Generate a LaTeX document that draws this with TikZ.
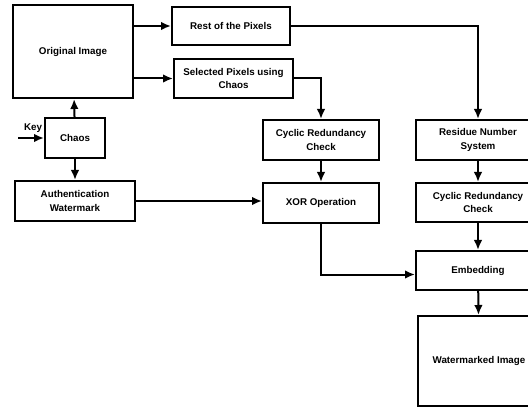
\documentclass[tikz,border=0pt]{standalone}
\usepackage{fontspec}
\setmainfont{Liberation Sans}
\usetikzlibrary{arrows.meta}
\tikzset{every node/.style={font=\fontsize{9.8}{13.5}\selectfont\bfseries},
  blk/.style={draw, line width=2pt, align=center, inner sep=1pt},
  flow/.style={line width=2pt, -{Latex[length=10pt,width=8.5pt]}}}

\begin{document}
\begin{tikzpicture}[x=1pt,y=-1pt]
\useasboundingbox (0,0) rectangle (528,409);
% left column
\node[blk, minimum width=120pt, minimum height=93pt] (orig) at (73,51.5) {Original Image};
\node[blk, minimum width=60pt, minimum height=40pt] (chaos) at (75,138) {Chaos};
\node[blk, minimum width=120pt, minimum height=40pt] (auth) at (75,201) {Authentication\\Watermark};
% pixel split
\node[blk, minimum width=118pt, minimum height=38pt] (rest) at (231,26) {Rest of the Pixels};
\node[blk, minimum width=119pt, minimum height=39pt] (sel) at (233.5,78.5) {Selected Pixels using\\Chaos};
% middle column
\node[blk, minimum width=116pt, minimum height=40pt] (crcA) at (321,140) {Cyclic Redundancy\\Check};
\node[blk, minimum width=116pt, minimum height=40pt] (xor) at (321,203) {XOR Operation};
% right column (runs off the page)
\node[blk, minimum width=124pt, minimum height=40pt] (rns) at (478,140) {Residue Number\\System};
\node[blk, minimum width=124pt, minimum height=39pt] (crcB) at (478,202.5) {Cyclic Redundancy\\Check};
\node[blk, minimum width=124pt, minimum height=39pt] (embed) at (478,270.5) {Embedding};
\node[blk, minimum width=122pt, minimum height=90pt] (wm) at (479,361) {Watermarked Image};
\coordinate (key) at (18,138);
\node[inner sep=0pt] (keylbl) at (33,128) {Key};

\draw[flow] (key) -- (chaos.west);
\draw[flow] (chaos) -- (orig);
\draw[flow] (chaos) -- (auth);
\draw[flow] (orig.east |- rest) -- (rest);
\draw[flow] (orig.east |- sel) -- (sel);
\draw[flow] (rest.east) -| (rns.north);
\draw[flow] (sel.east) -| (crcA.north);
\draw[flow] (crcA) -- (xor);
\draw[flow] (auth.east) -- (xor.west |- auth.east);
\draw[flow] (rns) -- (crcB);
\draw[flow] (crcB) -- (embed);
\draw[flow] (xor.south) |- ([yshift=-4pt]embed.west);
\draw[flow] (embed) -- (wm);
\end{tikzpicture}
\end{document}
